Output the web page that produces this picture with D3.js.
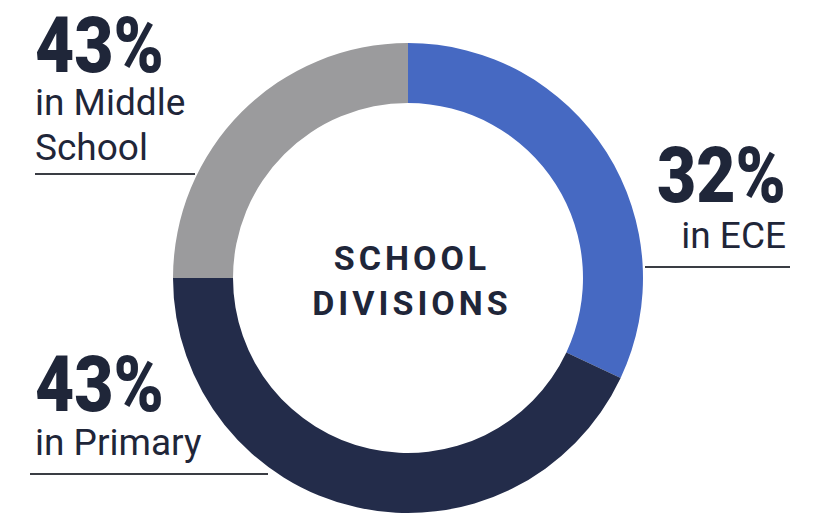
<!DOCTYPE html>
<html>
<head>
<meta charset="utf-8">
<script src="https://cdn.jsdelivr.net/npm/d3@7"></script>
<style>
  body { margin: 0; background: #ffffff; }
  svg { display: block; }
</style>
</head>
<body>
<div id="vis"></div>
<script>
'use strict';

// Segment data, clockwise from 12 o'clock
const divisions = ["ECE", "Primary", "Middle School"];
const shares = [32, 43, 25];
const shareLabels = ["32%", "43%", "43%"];
const captions = [["in ECE"], ["in Primary"], ["in Middle", "School"]];
const colors = ["#4669c2", "#232c4a", "#9b9b9d"];
const centerTitle = ["SCHOOL", "DIVISIONS"];

const constraints = { width: 827, height: 520, cx: 408, cy: 278, outer: 235, inner: 175 };
const textColor = "#1f2639";

let svg = d3.select("#vis").append("svg")
    .attr("width", constraints.width)
    .attr("height", constraints.height);

// Donut ring
let pie = d3.pie().sort(null).value((d) => d);
let arc = d3.arc().innerRadius(constraints.inner).outerRadius(constraints.outer);

svg.append("g")
    .attr("transform", "translate(" + constraints.cx + "," + constraints.cy + ")")
    .selectAll("path")
    .data(pie(shares))
    .enter()
    .append("path")
        .attr("d", arc)
        .attr("fill", (d, i) => colors[i]);

// Centre title
svg.append("g").selectAll("text")
    .data(centerTitle)
    .enter()
    .append("text")
        .attr("x", 412)
        .attr("y", (d, i) => 270 + i * 45)
        .attr("text-anchor", "middle")
        .style("font-family", "Roboto, sans-serif")
        .style("font-weight", "bold")
        .style("font-size", "34px")
        .style("letter-spacing", "4px")
        .style("fill", textColor)
        .text((d) => d);

// Label blocks: big number, caption lines, underline
const labelPos = [
    { x: 786, anchor: "end", numY: 202, capY: 248, line: [645, 790, 267] },
    { x: 35, anchor: "start", numY: 411, capY: 455, line: [30, 268, 474] },
    { x: 35, anchor: "start", numY: 72, capY: 115, line: [35, 195, 174] }
];

labelPos.forEach((p, i) => {
    let g = svg.append("g");
    g.append("text")
        .attr("x", p.x)
        .attr("y", p.numY)
        .attr("text-anchor", p.anchor)
        .attr("textLength", 129)
        .attr("lengthAdjust", "spacingAndGlyphs")
        .style("font-family", "Roboto, sans-serif")
        .style("font-weight", "900")
        .style("font-size", "78px")
        .style("fill", textColor)
        .text(shareLabels[i]);
    g.selectAll("text.cap")
        .data(captions[i])
        .enter()
        .append("text")
            .attr("class", "cap")
            .attr("x", p.x)
            .attr("y", (d, j) => p.capY + j * 45)
            .attr("text-anchor", p.anchor)
            .style("font-family", "Roboto, sans-serif")
            .style("font-size", "37px")
            .style("fill", textColor)
            .text((d) => d);
    g.append("line")
        .attr("x1", p.line[0])
        .attr("x2", p.line[1])
        .attr("y1", p.line[2])
        .attr("y2", p.line[2])
        .attr("stroke", "#3a3d44")
        .attr("stroke-width", 2);
});
</script>
</body>
</html>
